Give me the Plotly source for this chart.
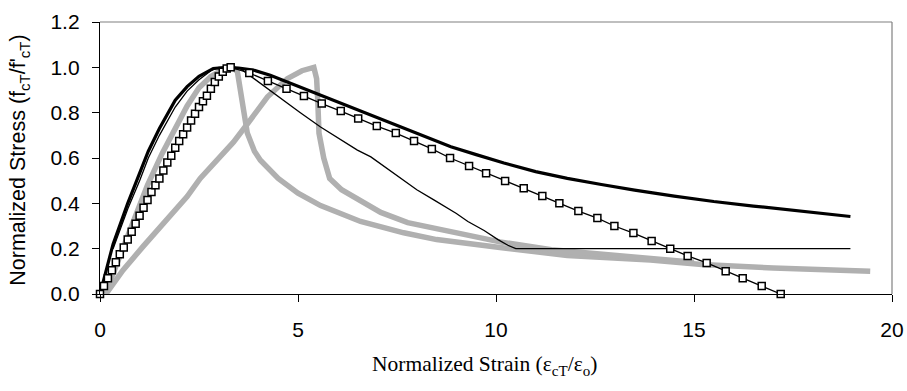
import plotly.graph_objects as go

# Thick black model curve
thick_x = [0, 0.33, 0.7, 1.0, 1.22, 1.5, 1.9, 2.2, 2.5, 2.86, 3.2, 3.5, 3.87, 4.3, 4.73, 5.06, 5.57, 6.0, 6.5, 7.09, 7.6, 8.2, 8.86, 9.5, 10.2, 11.0, 11.8, 12.66, 13.5, 14.5, 15.5, 16.5, 17.5, 18.3, 18.95]
thick_y = [0, 0.22, 0.40, 0.53, 0.63, 0.73, 0.855, 0.915, 0.96, 0.995, 1.0, 0.997, 0.988, 0.965, 0.935, 0.915, 0.878, 0.848, 0.812, 0.77, 0.735, 0.695, 0.65, 0.615, 0.578, 0.54, 0.51, 0.483, 0.458, 0.432, 0.408, 0.388, 0.368, 0.353, 0.342]

# Thin black model curve
thin_x = [0.33, 0.7, 1.0, 1.22, 1.5, 1.9, 2.2, 2.5, 2.8, 3.0, 3.54, 4.0, 4.56, 5.06, 5.57, 6.0, 6.5, 6.84, 7.59, 8.0, 8.43, 9.0, 9.29, 9.7, 10.05, 10.3, 10.5, 18.95]
thin_y = [0.2, 0.375, 0.5, 0.6, 0.7, 0.825, 0.895, 0.945, 0.985, 1.0, 0.995, 0.935, 0.865, 0.80, 0.737, 0.69, 0.635, 0.605, 0.51, 0.46, 0.415, 0.355, 0.32, 0.28, 0.24, 0.215, 0.2, 0.2]

# Black model with square markers
mark_x = [0, 0.1, 0.2, 0.3, 0.4, 0.5, 0.6, 0.7, 0.8, 0.9, 1.0, 1.1, 1.2, 1.3, 1.4, 1.5, 1.6, 1.7, 1.8, 1.9,
          2.0, 2.1, 2.2, 2.3, 2.4, 2.5, 2.6, 2.7, 2.8, 2.9, 3.0, 3.1, 3.2, 3.3,
          3.77, 4.24, 4.71, 5.15, 5.6, 6.08, 6.52, 6.99, 7.47, 7.93, 8.38, 8.84, 9.32, 9.75, 10.23, 10.7,
          11.17, 11.6, 12.08, 12.56, 12.99, 13.47, 13.93, 14.4, 14.84, 15.32, 15.8, 16.23, 16.71, 17.19]
mark_y = [0, 0.035, 0.07, 0.105, 0.14, 0.175, 0.205, 0.24, 0.275, 0.31, 0.345, 0.38, 0.415, 0.45, 0.48, 0.51, 0.545, 0.58, 0.61, 0.645,
          0.675, 0.705, 0.735, 0.765, 0.795, 0.825, 0.85, 0.875, 0.905, 0.935, 0.96, 0.98, 0.995, 1.0,
          0.975, 0.94, 0.905, 0.873, 0.84, 0.807, 0.774, 0.741, 0.71, 0.675, 0.64, 0.60, 0.565, 0.533, 0.498, 0.467,
          0.432, 0.40, 0.366, 0.335, 0.30, 0.269, 0.234, 0.20, 0.168, 0.137, 0.10, 0.07, 0.035, 0.0]

# Gray experimental curve 1
g1_x = [0.13, 0.4, 0.8, 1.2, 1.57, 1.9, 2.2, 2.5, 2.8, 3.1, 3.35, 3.47, 3.6, 3.72, 3.9, 4.05, 4.5, 5.0, 5.57, 6.58, 7.67, 8.5, 10.1, 11.8, 13.9, 15.2, 17.0, 19.45]
g1_y = [0.0, 0.12, 0.30, 0.48, 0.62, 0.73, 0.83, 0.91, 0.96, 0.99, 1.0, 0.98, 0.855, 0.71, 0.63, 0.59, 0.51, 0.445, 0.39, 0.32, 0.27, 0.24, 0.205, 0.17, 0.15, 0.13, 0.115, 0.10]

# Gray experimental curve 2
g2_x = [0.15, 0.58, 1.09, 1.7, 2.2, 2.53, 3.0, 3.37, 3.72, 4.23, 4.73, 5.1, 5.4, 5.47, 5.5, 5.53, 5.65, 5.8, 6.1, 6.4, 7.09, 7.77, 8.86, 10.1, 11.4, 13.0, 15.0]
g2_y = [0.0, 0.105, 0.21, 0.33, 0.43, 0.51, 0.60, 0.67, 0.75, 0.87, 0.95, 0.985, 1.0, 0.95, 0.85, 0.71, 0.60, 0.51, 0.46, 0.43, 0.36, 0.315, 0.275, 0.23, 0.195, 0.17, 0.14]

x_ticks = [0, 5, 10, 15, 20]
y_ticks = [0.0, 0.2, 0.4, 0.6, 0.8, 1.0, 1.2]

GRAY = "#b0b0b0"
fig = go.Figure()
fig.add_trace(go.Scatter(x=g1_x, y=g1_y, mode="lines", line=dict(color=GRAY, width=5.5)))
fig.add_trace(go.Scatter(x=g2_x, y=g2_y, mode="lines", line=dict(color=GRAY, width=5.5)))
fig.add_trace(go.Scatter(x=thin_x, y=thin_y, mode="lines", line=dict(color="black", width=1.3)))
fig.add_trace(go.Scatter(x=thick_x, y=thick_y, mode="lines", line=dict(color="black", width=3.2)))
fig.add_trace(go.Scatter(x=mark_x, y=mark_y, mode="lines+markers", cliponaxis=False,
                         line=dict(color="black", width=1.3),
                         marker=dict(symbol="square", size=7, color="white",
                                     line=dict(color="black", width=1.5))))

# grey plot-area border (top and right)
fig.add_shape(type="line", xref="paper", yref="paper", x0=0, x1=1, y0=1, y1=1,
              line=dict(color="#808080", width=1.2))
fig.add_shape(type="line", xref="paper", yref="paper", x0=1, x1=1, y0=0, y1=1,
              line=dict(color="#808080", width=1.2))

fig.update_layout(
    width=907, height=391,
    margin=dict(l=100, r=15, t=22, b=97, autoexpand=False),
    plot_bgcolor="white", paper_bgcolor="white",
    showlegend=False,
    font=dict(family="Liberation Sans, Arial", size=21, color="black"),
)
fig.update_xaxes(range=[0, 20], tickvals=x_ticks, ticktext=[str(v) for v in x_ticks],
                 showgrid=False, zeroline=False, showline=True, linecolor="black", linewidth=1.3,
                 ticks="outside", ticklen=7, tickcolor="black", ticklabelstandoff=10, automargin=False)
fig.update_yaxes(range=[0, 1.2], tickvals=y_ticks, ticktext=[f"{v:.1f}" for v in y_ticks],
                 showgrid=False, zeroline=False, showline=True, linecolor="black", linewidth=1.3,
                 ticks="outside", ticklen=7, tickcolor="black", ticklabelstandoff=8, automargin=False)

fig.add_annotation(text="Normalized Strain (ε<sub>cT</sub>/ε<sub>o</sub>)", xref="paper", yref="paper",
                   x=0.486, y=-0.262, xanchor="center", yanchor="middle", showarrow=False,
                   font=dict(family="Liberation Serif, Times New Roman", size=21.5, color="black"))
fig.add_annotation(text="Normalized Stress (f<sub>cT</sub>/f'<sub>cT</sub>)", xref="paper", yref="paper",
                   x=-0.101, y=0.49, xanchor="center", yanchor="middle", textangle=-90, showarrow=False,
                   font=dict(family="Liberation Sans, Arial", size=21.5, color="black"))

fig.write_html("out.html")
